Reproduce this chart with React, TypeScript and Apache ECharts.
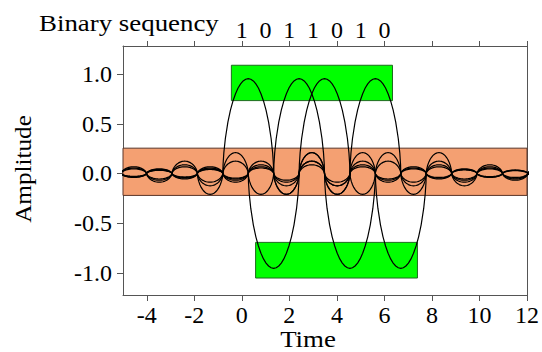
import React, { useEffect, useRef } from 'react';
import * as echarts from 'echarts';

// Binary sequence shown on the top axis
const bits = [1, 0, 1, 1, 0, 1, 0];
const bitLabels = ['1', '0', '1', '1', '0', '1', '0'];
const bitLabelPositions = [0, 1, 2, 3, 4, 5, 6];

// Centre time of each transmitted pulse
const pulseCenters = [0.27, 1.34, 2.41, 3.48, 4.55, 5.62, 6.69];
const bitPeriod = 1.07;
const pulseAmplitude = 0.955;

// Peak of each lobe of one pulse, relative to the main lobe (index 0 = main lobe, n = n-th side lobe)
const lobeAmplitudes = [1, -0.22, 0.13, -0.092, 0.071, -0.058, 0.049, -0.042, 0.037, -0.033, 0.03, -0.028];

// Shape of a lobe across its width (fraction of width -> fraction of lobe peak)
const lobeFractions = [0, 0.005, 0.02, 0.05, 0.1, 0.15, 0.2, 0.25, 0.3, 0.35, 0.4, 0.45, 0.5,
  0.55, 0.6, 0.65, 0.7, 0.75, 0.8, 0.85, 0.9, 0.95, 0.98, 0.995, 1];
const lobeProfile = [0, 0.095, 0.217, 0.369, 0.542, 0.668, 0.765, 0.841, 0.901, 0.945, 0.976, 0.994, 1,
  0.994, 0.976, 0.945, 0.901, 0.841, 0.765, 0.668, 0.542, 0.369, 0.217, 0.095, 0];

// Axes
const xRange = [-5, 12];
const yRange = [-1.224, 1.284];
const xTicks = [-4, -2, 0, 2, 4, 6, 8, 10, 12];
const yTicks = [-1, -0.5, 0, 0.5, 1];

// Shaded regions
const isiBandY = [-0.221, 0.255];
const highBoxX = [-0.44, 6.34];
const highBoxY = [0.734, 1.09];
const lowBoxX = [0.58, 7.39];
const lowBoxY = [-1.053, -0.694];

const FONT = '"Liberation Serif", "DejaVu Serif", serif';

function pulseSeries(k: number) {
  const sign = bits[k] === 1 ? 1 : -1;
  const c = pulseCenters[k];
  const pts: number[][] = [];
  const L = lobeAmplitudes.length - 1;
  const push = (u: number, v: number) => {
    pts.push([c + u * bitPeriod, sign * pulseAmplitude * v]);
  };
  // left side lobes, from far to near
  for (let n = L; n >= 1; n--) {
    const start = -(n + 1);
    for (let i = 0; i < lobeFractions.length; i++) {
      if (n !== L && i === 0) continue;
      push(start + lobeFractions[i], lobeAmplitudes[n] * lobeProfile[i]);
    }
  }
  // main lobe
  for (let i = 1; i < lobeFractions.length; i++) {
    push(-1 + 2 * lobeFractions[i], lobeAmplitudes[0] * lobeProfile[i]);
  }
  // right side lobes
  for (let n = 1; n <= L; n++) {
    for (let i = 1; i < lobeFractions.length; i++) {
      push(n + lobeFractions[i], lobeAmplitudes[n] * lobeProfile[i]);
    }
  }
  return {
    type: 'line',
    name: 'pulse' + k,
    data: pts,
    showSymbol: false,
    symbol: 'none',
    smooth: false,
    clip: true,
    z: 5,
    lineStyle: { color: '#000', width: 1.2 },
    silent: true,
  };
}

export default function App() {
  const ref = useRef<HTMLDivElement>(null);
  useEffect(() => {
    if (!ref.current) return;
    const chart = echarts.init(ref.current, undefined, { renderer: 'svg' });
    const axisLine = { show: true, lineStyle: { color: '#555', width: 1 } };
    const labelStyle = { fontSize: 24, fontFamily: FONT, color: '#000' };
    const option: any = {
      animation: false,
      backgroundColor: '#fff',
      grid: { left: 123, right: 14, top: 46, bottom: 57, containLabel: false },
      xAxis: [
        {
          type: 'value',
          position: 'bottom',
          min: xRange[0],
          max: xRange[1],
          axisLine: { ...axisLine, onZero: false },
          axisTick: { show: true, customValues: xTicks, length: 6, lineStyle: { color: '#555' } },
          axisLabel: { ...labelStyle, customValues: xTicks, margin: 8 },
          splitLine: { show: false },
        },
        {
          type: 'value',
          position: 'top',
          min: xRange[0],
          max: xRange[1],
          axisLine: { ...axisLine, onZero: false },
          axisTick: { show: true, customValues: xTicks, length: 5, lineStyle: { color: '#555' } },
          axisLabel: {
            ...labelStyle,
            customValues: bitLabelPositions,
            formatter: (v: number) => {
              const i = bitLabelPositions.indexOf(Math.round(v));
              return i >= 0 ? bitLabels[i] : '';
            },
            margin: 4,
          },
          splitLine: { show: false },
        },
      ],
      yAxis: [
        {
          type: 'value',
          position: 'left',
          min: yRange[0],
          max: yRange[1],
          axisLine: { ...axisLine, onZero: false },
          axisTick: { show: true, customValues: yTicks, length: 6, lineStyle: { color: '#555' } },
          axisLabel: { ...labelStyle, customValues: yTicks, formatter: (v: number) => v.toFixed(1), margin: 11 },
          splitLine: { show: false },
        },
        {
          type: 'value',
          position: 'right',
          min: yRange[0],
          max: yRange[1],
          axisLine: { ...axisLine, onZero: false },
          axisTick: { show: false },
          axisLabel: { show: false },
          splitLine: { show: false },
        },
      ],
      graphic: [
        {
          type: 'text',
          x: 39,
          y: 35,
          scaleX: 1.12,
          style: {
            text: 'Binary sequency',
            font: '24px ' + FONT,
            fill: '#000',
            textAlign: 'left',
            textVerticalAlign: 'bottom',
          },
        },
        {
          type: 'text',
          x: 23,
          y: 169,
          rotation: Math.PI / 2,
          scaleX: 1.05,
          style: {
            text: 'Amplitude',
            font: '24px ' + FONT,
            fill: '#000',
            textAlign: 'center',
            textVerticalAlign: 'middle',
          },
        },
        {
          type: 'text',
          x: 308,
          y: 339,
          scaleX: 1.12,
          style: {
            text: 'Time',
            font: '24px ' + FONT,
            fill: '#000',
            textAlign: 'center',
            textVerticalAlign: 'middle',
          },
        },
      ],
      series: [
        {
          type: 'line',
          name: 'regions',
          data: [],
          z: 1,
          silent: true,
          markArea: {
            silent: true,
            label: { show: false },
            data: [
              [
                { xAxis: xRange[0], yAxis: isiBandY[1], itemStyle: { color: '#F4A072', borderColor: '#5a3528', borderWidth: 1 } },
                { xAxis: xRange[1], yAxis: isiBandY[0] },
              ],
              [
                { xAxis: highBoxX[0], yAxis: highBoxY[1], itemStyle: { color: '#00FF00', borderColor: '#1d6b1d', borderWidth: 1 } },
                { xAxis: highBoxX[1], yAxis: highBoxY[0] },
              ],
              [
                { xAxis: lowBoxX[0], yAxis: lowBoxY[1], itemStyle: { color: '#00FF00', borderColor: '#1d6b1d', borderWidth: 1 } },
                { xAxis: lowBoxX[1], yAxis: lowBoxY[0] },
              ],
            ],
          },
        },
        ...bits.map((_, k) => pulseSeries(k)),
      ],
    };
    chart.setOption(option);
    return () => chart.dispose();
  }, []);
  return <div ref={ref} style={{ width: 542, height: 352, position: 'absolute', left: 0, top: 0 }} />;
}
